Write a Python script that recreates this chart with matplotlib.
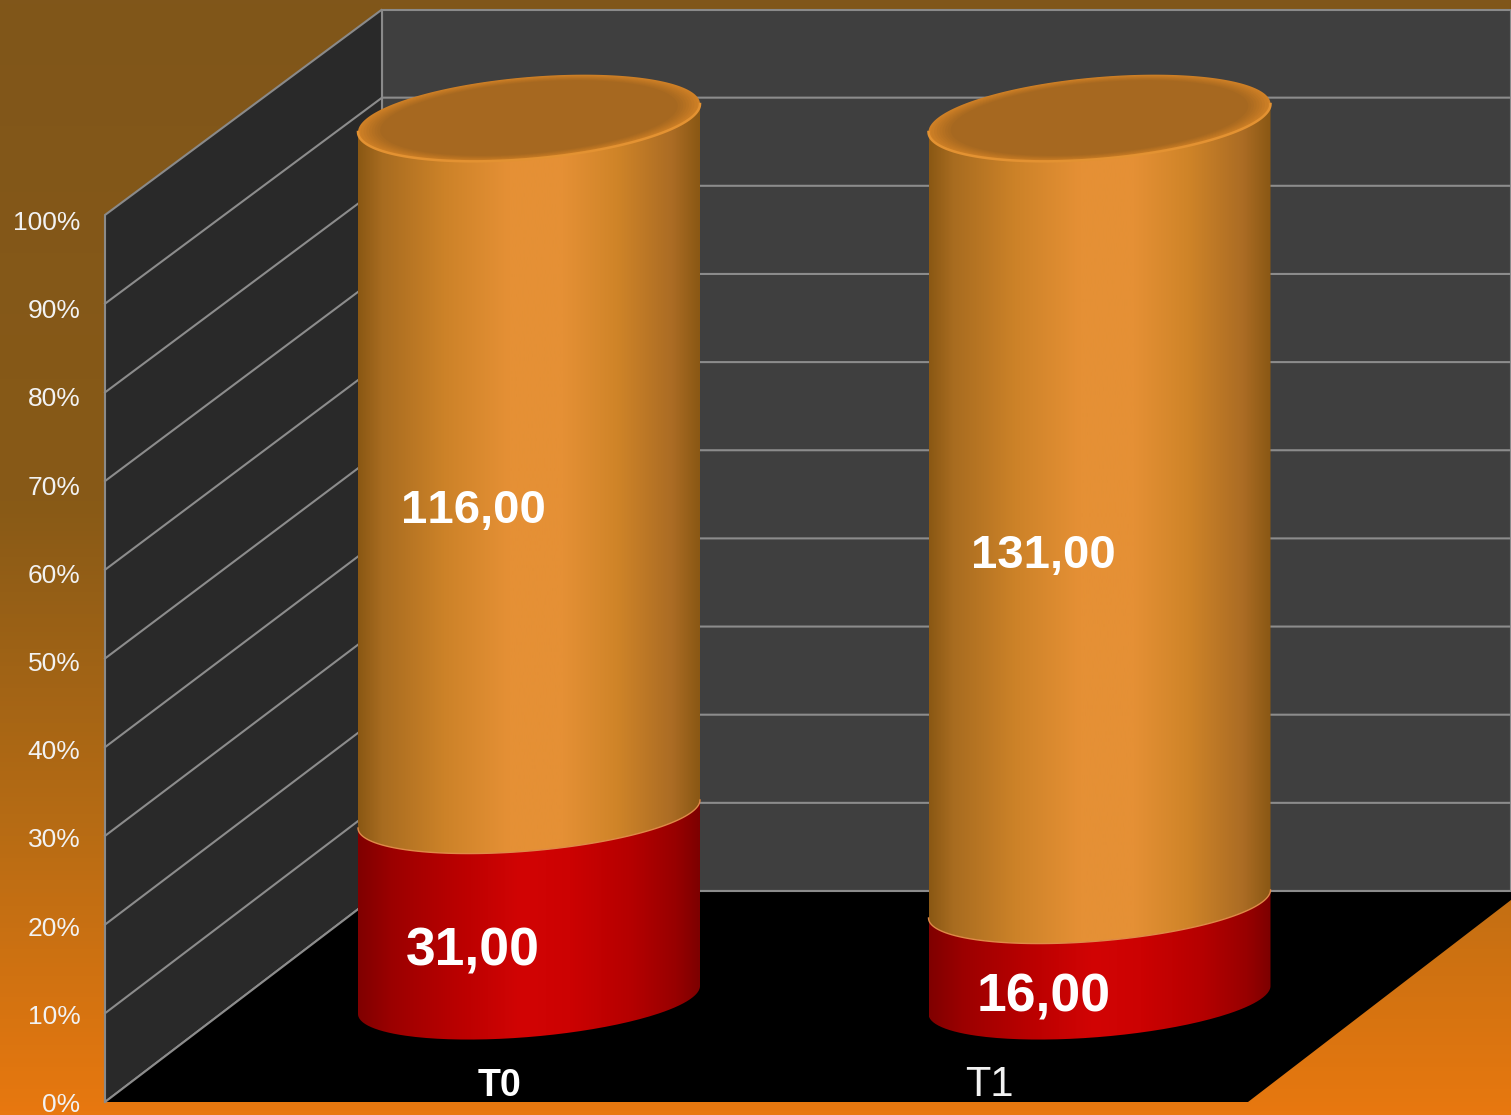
import numpy as np
import matplotlib
matplotlib.use("Agg")
import matplotlib.pyplot as plt
from matplotlib.colors import LinearSegmentedColormap
from matplotlib.patches import PathPatch, Polygon
from matplotlib.path import Path

categories = ["T0", "T1"]
lower_values = [31, 16]
upper_values = [116, 131]
pct_ticks = [0, 10, 20, 30, 40, 50, 60, 70, 80, 90, 100]

W, H = 1511, 1115

# projection of the 3d box, in pixels
FRONT_X, FRONT_Y0, FRONT_Y100 = 105, 1102, 215
BACK_X, BACK_Y0, BACK_Y100 = 382, 891, 9.5
TICK_Y0, TICK_Y100 = 1105, 223
CYL_CENTERS = [529, 1099.5]
CYL_A, CYL_B, CYL_TILT = 171, 37, 14
CYL_BASE, CYL_TOP = 1000, 118

orange_cm = LinearSegmentedColormap.from_list(
    "orange",
    [(0, "#8a5814"), (0.07, "#a86c20"), (0.25, "#cc8228"), (0.44, "#e59035"),
     (0.6, "#e59035"), (0.76, "#cf8428"), (0.92, "#ab6c24"), (1, "#8a5814")],
)
red_cm = LinearSegmentedColormap.from_list(
    "red",
    [(0, "#800000"), (0.1, "#9c0000"), (0.28, "#b80000"), (0.48, "#d20404"),
     (0.62, "#cc0202"), (0.8, "#b50000"), (0.93, "#980000"), (1, "#7d0000")],
)
rim_cm = LinearSegmentedColormap.from_list("rim", ["#cf8026", "#b97322", "#a66820"])
bg_cm = LinearSegmentedColormap.from_list(
    "bg", [(0, "#80561a"), (0.45, "#885a17"), (0.75, "#b86c14"), (1, "#e8780f")]
)


def wall_y(pct, front=True):
    if front:
        return FRONT_Y0 + (FRONT_Y100 - FRONT_Y0) * pct / 100
    return BACK_Y0 + (BACK_Y100 - BACK_Y0) * pct / 100


def cyl_y(frac):
    return CYL_BASE + (CYL_TOP - CYL_BASE) * frac


def ellipse_pts(cx, cy, t, scale=1.0, b=CYL_B):
    # ellipse sheared up to the right
    x = cx + scale * CYL_A * np.cos(t)
    y = cy + scale * (-CYL_TILT * np.cos(t) + b * np.sin(t))
    return x, y


def shaded_segment(ax, cx, y_low, y_high, cmap, zorder):
    # front half of the lower ellipse, then back along the front half of the upper one
    t = np.linspace(0, np.pi, 120)
    x1, y1 = ellipse_pts(cx, y_low, t)
    x2, y2 = ellipse_pts(cx, y_high, t[::-1])
    verts = np.column_stack([np.r_[x1, x2], np.r_[y1, y2]])
    clip = PathPatch(Path(np.vstack([verts, verts[0]])), transform=ax.transData, fc="none", ec="none")
    ax.add_patch(clip)
    grad = np.linspace(0, 1, 256).reshape(1, -1)
    im = ax.imshow(grad, cmap=cmap, aspect="auto", zorder=zorder,
                   extent=(cx - CYL_A, cx + CYL_A, y_low + 80, y_high - 80))
    im.set_clip_path(clip)


plt.rcParams["font.family"] = ["Liberation Sans", "DejaVu Sans"]
plt.rcParams["text.kerning_factor"] = 10  # the source has no kerning in "11"

fig = plt.figure(figsize=(W / 100, H / 100), dpi=100)
ax = fig.add_axes([0, 0, 1, 1])

# background
ax.imshow(np.linspace(0, 1, 256).reshape(-1, 1), cmap=bg_cm, aspect="auto", extent=(0, W, H, 0), zorder=0)

# walls and floor
ax.add_patch(Polygon([(BACK_X, BACK_Y100), (W, BACK_Y100), (W, BACK_Y0), (BACK_X, BACK_Y0)],
                     fc="#3f3f3f", ec="#8a8a8a", lw=1.5, zorder=1))
ax.add_patch(Polygon([(FRONT_X, FRONT_Y100), (BACK_X, BACK_Y100), (BACK_X, BACK_Y0), (FRONT_X, FRONT_Y0)],
                     fc="#292929", ec="#8a8a8a", lw=1.5, zorder=1))
ax.add_patch(Polygon([(FRONT_X, FRONT_Y0), (BACK_X, BACK_Y0), (W, BACK_Y0), (W, 900), (1248, FRONT_Y0)],
                     fc="black", ec="none", zorder=2))

# gridlines and tick labels
for p in pct_ticks[:-1]:
    ax.plot([FRONT_X, BACK_X, W], [wall_y(p), wall_y(p, False), wall_y(p, False)],
            color="#8c8c8c", lw=1.5, zorder=3, solid_joinstyle="miter")
for p in pct_ticks:
    tick_y = TICK_Y0 + (TICK_Y100 - TICK_Y0) * p / 100
    ax.text(80.5, tick_y, f"{p}%", color="#f2f2f2", fontsize=19, ha="right", va="center", zorder=6)

# cylinders
for i, cx in enumerate(CYL_CENTERS):
    total = lower_values[i] + upper_values[i]
    y_mid = cyl_y(lower_values[i] / total)
    shaded_segment(ax, cx, CYL_BASE, y_mid, red_cm, 4)
    shaded_segment(ax, cx, y_mid, CYL_TOP, orange_cm, 4.1)

    # thin light edge where orange meets red
    t_front = np.linspace(0, np.pi, 120)
    x, y = ellipse_pts(cx, y_mid, t_front)
    ax.plot(x, y, color="#e08a48", lw=1, zorder=4.2)

    # top face, stepped from the rim inwards
    t = np.linspace(0, 2 * np.pi, 240)
    for k, s in enumerate(np.linspace(1, 0.87, 9)):
        x, y = ellipse_pts(cx, CYL_TOP, t, s, CYL_B + 4)
        ax.fill(x, y, color=rim_cm(k / 8), lw=0, zorder=4.3 + k * 0.01)
    x, y = ellipse_pts(cx, CYL_TOP, t_front, 1, CYL_B + 4)
    ax.plot(x, y, color="#e39232", lw=1.8, zorder=4.5)

    ax.text(cx - 56, (CYL_BASE + y_mid) / 2 + 45, f"{lower_values[i]},00", color="white",
            fontsize=38.5, fontweight="bold", ha="center", va="center", zorder=6)
    ax.text(cx - 56, (y_mid + CYL_TOP) / 2 + 45, f"{upper_values[i]},00", color="white",
            fontsize=34, fontweight="bold", ha="center", va="center", zorder=6)

ax.text(500, 1086, categories[0], color="white", fontsize=27, fontweight="bold", ha="center", va="center", zorder=6)
ax.text(989, 1085, categories[1], color="#f2f2f2", fontsize=30, ha="center", va="center", zorder=6)

ax.set_xlim(0, W)
ax.set_ylim(H, 0)
ax.axis("off")
fig.savefig("out.png", dpi=100)
